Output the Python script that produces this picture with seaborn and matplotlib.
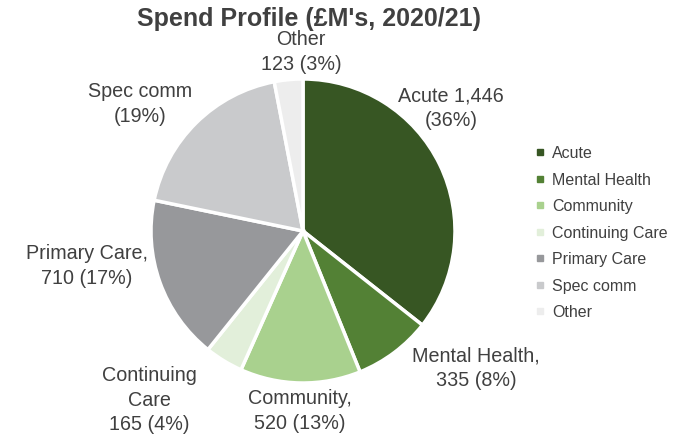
# Spend profile pie, 2020/21

# libraries
import matplotlib
matplotlib.use("Agg")
import matplotlib.pyplot as plt
from matplotlib.lines import Line2D
import seaborn as sns

# Data
categories = ["Acute", "Mental Health", "Community", "Continuing Care", "Primary Care", "Spec comm", "Other"]
spend = [1446, 335, 520, 165, 710, 760, 123]   # Spec comm value not shown, estimated from its 19% share
label_texts = ["Acute 1,446\n(36%)", "Mental Health,\n335 (8%)", "Community,\n520 (13%)",
               "Continuing\nCare\n165 (4%)", "Primary Care,\n710 (17%)", "Spec comm\n(19%)", "Other\n123 (3%)"]
colours = ["#375623", "#538135", "#A9D18E", "#E2EFDA", "#97989B", "#C9CACC", "#EDEDED"]

sns.set_theme(style="white")
plt.rcParams["font.family"] = ["Liberation Sans", "DejaVu Sans"]
text_col = "#404040"

fig = plt.figure(figsize=(6.75, 4.4), dpi=100)
ax = fig.add_axes([0, 0, 1, 1])

wedges, _ = ax.pie(spend, colors=colours, startangle=90, counterclock=False,
                   center=(303, 440 - 231), radius=152,
                   wedgeprops=dict(edgecolor="white", linewidth=2.5))
ax.set_aspect("equal")
ax.set_xlim(0, 675)
ax.set_ylim(0, 440)
ax.axis("off")

# data labels (positions in pixels from the top-left)
label_pos = [(451, 108), (476, 368), (300, 411), (149, 400), (87, 266), (140, 104), (301, 52)]
for txt, (x, y) in zip(label_texts, label_pos):
    ax.text(x, 440 - y, txt, ha="center", va="center", fontsize=14.2, color=text_col, linespacing=1.38)

ax.text(309, 440 - 19, "Spend Profile (£M's, 2020/21)", ha="center", va="center",
        fontsize=18, fontweight="bold", color=text_col)

# legend
handles = [Line2D([], [], marker="s", linestyle="", markersize=4.5, color=c) for c in colours]
fig.legend(handles, categories, loc="center left", bbox_to_anchor=(521 / 675, 1 - 233 / 440),
           frameon=False, fontsize=11.5, labelcolor=text_col, handlelength=0.6, handletextpad=0.45,
           labelspacing=0.72)

plt.savefig("out.png", dpi=100)
